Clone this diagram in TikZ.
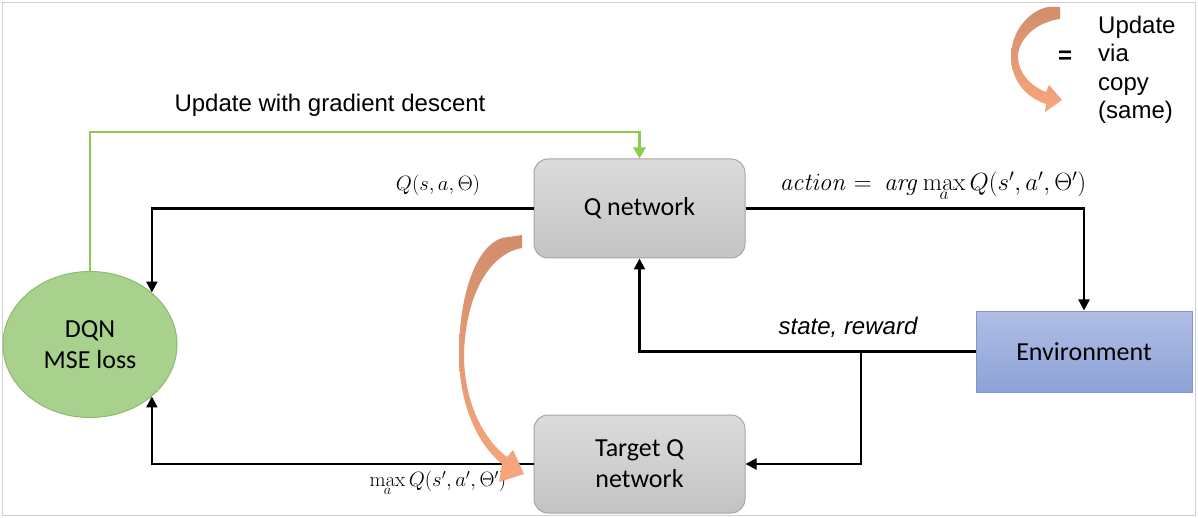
\documentclass[tikz,border=0pt]{standalone}
\usepackage[no-math]{fontspec}
\setmainfont{Carlito}
\newfontfamily\arialf{Liberation Sans}
\usetikzlibrary{arrows.meta,shapes.geometric}
\definecolor{boxgrayT}{HTML}{DCDCDC}
\definecolor{boxgrayB}{HTML}{C3C3C3}
\definecolor{boxgrayL}{HTML}{A6A6A6}
\definecolor{envT}{HTML}{B0BEE4}
\definecolor{envB}{HTML}{8DA2D8}
\definecolor{envL}{HTML}{7F96CF}
\definecolor{lossF}{HTML}{A9D18E}
\definecolor{lossL}{HTML}{8DBB6E}
\definecolor{gline}{HTML}{8CCB4C}
\definecolor{orT}{HTML}{D18E6C}
\definecolor{orB}{HTML}{F8A67C}
\definecolor{frameC}{HTML}{D0D0D0}
\tikzset{
  netbox/.style={draw=boxgrayL, line width=1pt, rounded corners=14pt, top color=boxgrayT, bottom color=boxgrayB, minimum width=211pt, minimum height=99pt, font=\fontsize{26}{31}\selectfont, align=center, inner sep=0pt},
  envbox/.style={draw=envL, line width=1pt, top color=envT, bottom color=envB, minimum width=216pt, minimum height=81pt, font=\fontsize{26}{31}\selectfont, inner sep=0pt},
  lossnode/.style={ellipse, draw=lossL, line width=1pt, fill=lossF, minimum width=174pt, minimum height=146pt, font=\fontsize{26}{31}\selectfont, align=center, inner sep=0pt},
  conn/.style={line width=2.2pt, -{Triangle[width=11pt,length=11pt]}},
  gconn/.style={draw=gline, line width=2.6pt, -{Triangle[width=12pt,length=11pt]}, color=gline},
  mlabel/.style={font=\fontsize{21}{24}\selectfont, inner sep=0pt},
  alabel/.style={font=\arialf\fontsize{24}{29}\selectfont, inner sep=0pt, align=left},
  curvearr/.style={shading=axis, top color=orT, bottom color=orB, draw=none},
}
\begin{document}
\begin{tikzpicture}[x=1pt,y=-1pt]
\useasboundingbox (0,0) rectangle (1198,518);
\fill[white] (0,0) rectangle (1198,518);
\draw[frameC, line width=1.5pt] (2.5,2.5) rectangle (1195.5,515.5);

% nodes
\node[netbox] (qn) at (639.5,208.5) {Q network};
\node[netbox, minimum height=98pt] (tq) at (639.5,464) {Target Q\\network};
\node[envbox] (env) at (1084,351.5) {Environment};
\node[lossnode] (loss) at (90,344.5) {DQN\\MSE loss};

% connectors
\coordinate (gd) at (365,132);
\draw[gconn] (loss.north) |- (gd) -| (qn.north);
\draw[conn] (qn.west) -| (loss.north east);
\draw[conn] (tq.west) -| (loss.south east);
\draw[conn] (qn.east) -| (env.north);
\draw[conn] (env.west) -| (qn.south);
\coordinate (br) at (861,351.5);
\draw[conn] (br) |- (tq.east);

% labels
\node[alabel] (lgd) at (330,105) {Update with gradient descent};
\node[mlabel] (lq) at (438,185) {$Q(s,a,\Theta)$};
\node[mlabel, anchor=north] (lmax) at (438,471) {$\max\limits_a Q(s',a',\Theta')$};
\node[mlabel, anchor=north, font=\fontsize{23}{26}\selectfont] (lact) at (933,172) {$\mathit{action} = \ \mathit{arg}\max\limits_a Q(s',a',\Theta')$};
\node[alabel, font=\arialf\itshape\fontsize{24}{29}\selectfont] (lsr) at (848,327) {state, reward};

% orange copy arrow
\path[curvearr] (522,235) -- (522,248)
  .. controls (487,254) and (465,300) .. (464,355)
  .. controls (464,400) and (482,438) .. (507,457)
  -- (513,450) -- (524,474) -- (499,482) -- (502,464)
  .. controls (475,442) and (459,400) .. (459,355)
  .. controls (459,292) and (477,246) .. (502,238) -- cycle;

% legend
\path[curvearr] (1060,7) -- (1060,19)
  .. controls (1032,23) and (1018,42) .. (1018,57)
  .. controls (1018,72) and (1030,86) .. (1046,92)
  -- (1049,85) -- (1062,100) -- (1045,112) -- (1046,104)
  .. controls (1024,97) and (1011,78) .. (1011,57)
  .. controls (1011,32) and (1028,11) .. (1048,7) -- cycle;
\node[font=\arialf\bfseries\fontsize{24}{29}\selectfont, inner sep=0pt] (leq) at (1065,57) {=};
\node[alabel, anchor=west, font=\arialf\fontsize{24}{28.5}\selectfont] (ltext) at (1098,70) {Update\\via\\copy\\(same)};
\end{tikzpicture}
\end{document}
